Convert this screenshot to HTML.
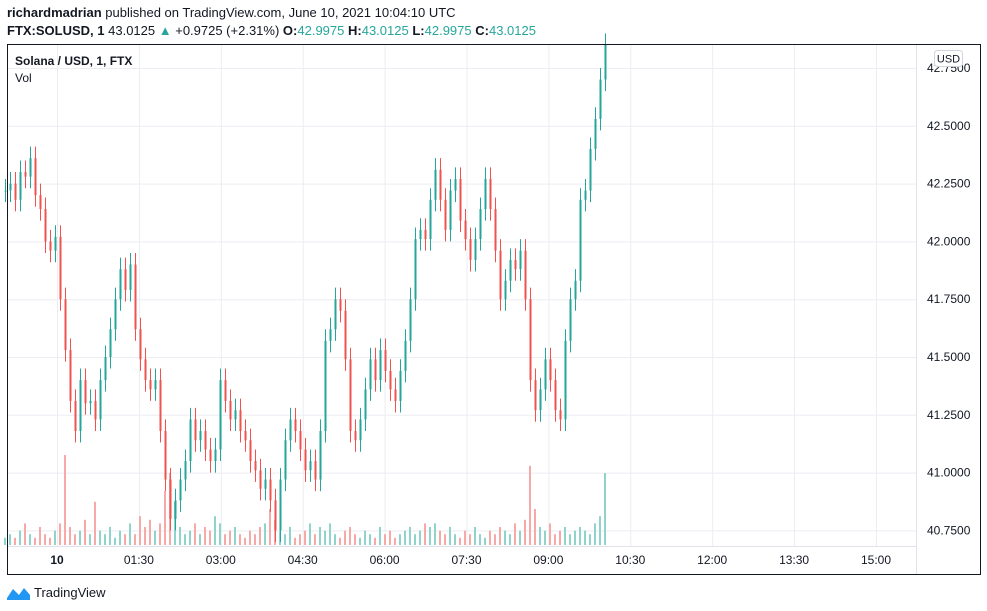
<!DOCTYPE html>
<html><head><meta charset="utf-8"><style>
body{margin:0;background:#fff;width:987px;height:611px;overflow:hidden;font-family:"Liberation Sans",sans-serif}
</style></head><body>
<svg width="987" height="611" id="c" style="position:absolute;left:0;top:0">
<text x="7" y="17" font-size="13" fill="#131722"><tspan font-weight="bold">richardmadrian</tspan> published on TradingView.com, June 10, 2021 10:04:10 UTC</text>
<text x="7" y="35" font-size="13" fill="#131722"><tspan font-weight="bold">FTX:SOLUSD, 1</tspan> 43.0125 <tspan fill="#26a69a">▲</tspan> +0.9725 (+2.31%) <tspan font-weight="bold">O:</tspan><tspan fill="#26a69a">42.9975</tspan> <tspan font-weight="bold">H:</tspan><tspan fill="#26a69a">43.0125</tspan> <tspan font-weight="bold">L:</tspan><tspan fill="#26a69a">42.9975</tspan> <tspan font-weight="bold">C:</tspan><tspan fill="#26a69a">43.0125</tspan></text>
<g id="grid"></g>
<g id="vol"></g>
<g id="candles"></g>
<line x1="916.5" y1="44" x2="916.5" y2="574" stroke="#e0e3eb"/>
<line x1="7" y1="546.5" x2="916" y2="546.5" stroke="#e0e3eb"/>
<g id="axes" font-size="12" fill="#131722"></g>
<rect x="7.5" y="44.5" width="973" height="530" fill="none" stroke="#131722"/>
<text x="15" y="65" font-size="12" font-weight="bold" fill="#131722">Solana / USD, 1, FTX</text>
<text x="15" y="82" font-size="12" fill="#131722">Vol</text>
<rect x="934.5" y="50.5" width="28" height="16" rx="3" fill="#fff" stroke="#d1d4dc"/>
<text x="948.5" y="62.5" font-size="11" text-anchor="middle" fill="#131722">USD</text>
<g>
<path d="M7 598 L13 589 L19 595 L24 588 L30 595 L30 600 L7 600 Z" fill="#2196f3"/>
<text x="34" y="597" font-size="13" fill="#131722">TradingView</text>
</g>
</svg>
<script>
const closes=[42.22,42.25,42.18,42.30,42.28,42.36,42.20,42.14,42.00,41.96,42.02,41.75,41.53,41.31,41.18,41.40,41.30,41.31,41.23,41.40,41.50,41.62,41.75,41.88,41.79,41.90,41.62,41.49,41.40,41.36,41.40,41.18,40.97,40.80,40.88,40.97,41.05,41.23,41.14,41.18,41.10,41.05,41.10,41.40,41.31,41.23,41.27,41.18,41.14,41.05,41.01,40.93,40.97,40.88,40.75,40.97,41.14,41.23,41.18,41.10,41.01,41.05,40.97,41.18,41.57,41.62,41.75,41.70,41.49,41.18,41.14,41.23,41.36,41.49,41.40,41.53,41.44,41.36,41.31,41.44,41.57,41.75,42.01,42.05,42.01,42.18,42.31,42.18,42.05,42.22,42.27,42.09,42.01,41.92,42.01,42.14,42.27,42.14,41.96,41.75,41.83,41.92,41.88,41.96,41.75,41.40,41.27,41.36,41.49,41.40,41.27,41.23,41.57,41.75,41.83,42.18,42.22,42.40,42.53,42.70,42.85];
const volumes=[2,3,2,4,6,3,2,5,3,2,4,6,25,5,3,4,7,3,12,4,3,5,2,4,3,6,3,8,5,7,4,6,15,20,12,5,3,4,6,3,5,4,8,6,3,4,5,3,2,4,3,5,6,10,7,4,3,5,2,3,4,6,3,5,4,6,3,2,4,5,3,2,4,3,2,5,3,4,2,3,4,5,3,4,6,5,6,4,3,5,3,2,4,3,5,3,2,4,3,5,4,3,6,4,7,22,10,5,4,6,3,4,5,3,4,5,4,3,6,8,20];
const priceTicks=[42.75,42.5,42.25,42.0,41.75,41.5,41.25,41.0,40.75];
const timeTicks=["10","01:30","03:00","04:30","06:00","07:30","09:00","10:30","12:00","13:30","15:00"];
const NS="http://www.w3.org/2000/svg";
const yP=p=>68+(42.75-p)*231.2;
const xI=i=>5+i*5;
const xT=k=>57+k*81.9;
const yV=v=>545-v*3.6;
function mk(t,a,parent){const e=document.createElementNS(NS,t);for(const k in a)e.setAttribute(k,a[k]);document.getElementById(parent).appendChild(e);return e;}
priceTicks.forEach(p=>{
 const l=mk('line',{x1:7,x2:916,y1:yP(p)+.5,y2:yP(p)+.5,stroke:'#ebedf2'},'grid');
 
 
 const t=mk('text',{x:927,y:yP(p)+4},'axes');t.textContent=p.toFixed(4);
 
 
});
timeTicks.forEach((s,k)=>{
 const l=mk('line',{x1:xT(k)+.5,x2:xT(k)+.5,y1:44,y2:546,stroke:'#ebedf2'},'grid');
 
 
 const t=mk('text',{x:xT(k),y:564,'text-anchor':'middle','font-weight':k==0?'bold':'normal'},'axes');t.textContent=s;
 
 
});
closes.forEach((c,i)=>{
 const o=i?closes[i-1]:c; const up=c>=o;
 const col=up?'#26a69a':'#ef5350';
 const vb=mk('rect',{x:xI(i)-1,y:yV(volumes[i]),width:2,height:545-yV(volumes[i]),fill:up?'#8fd3cb':'#f7a9a7'},'vol');
 
 
 const hi=Math.max(o,c)+0.05, lo=Math.min(o,c)-0.05;
 const w=mk('line',{x1:xI(i)+.5,x2:xI(i)+.5,y1:yP(hi),y2:yP(lo),stroke:col},'candles');
 
 
 const b=mk('rect',{x:xI(i)-0.5,y:yP(Math.max(o,c)),width:2,height:Math.max(1,Math.abs(yP(o)-yP(c))),fill:col},'candles');
 
 
});
</script>
</body></html>
